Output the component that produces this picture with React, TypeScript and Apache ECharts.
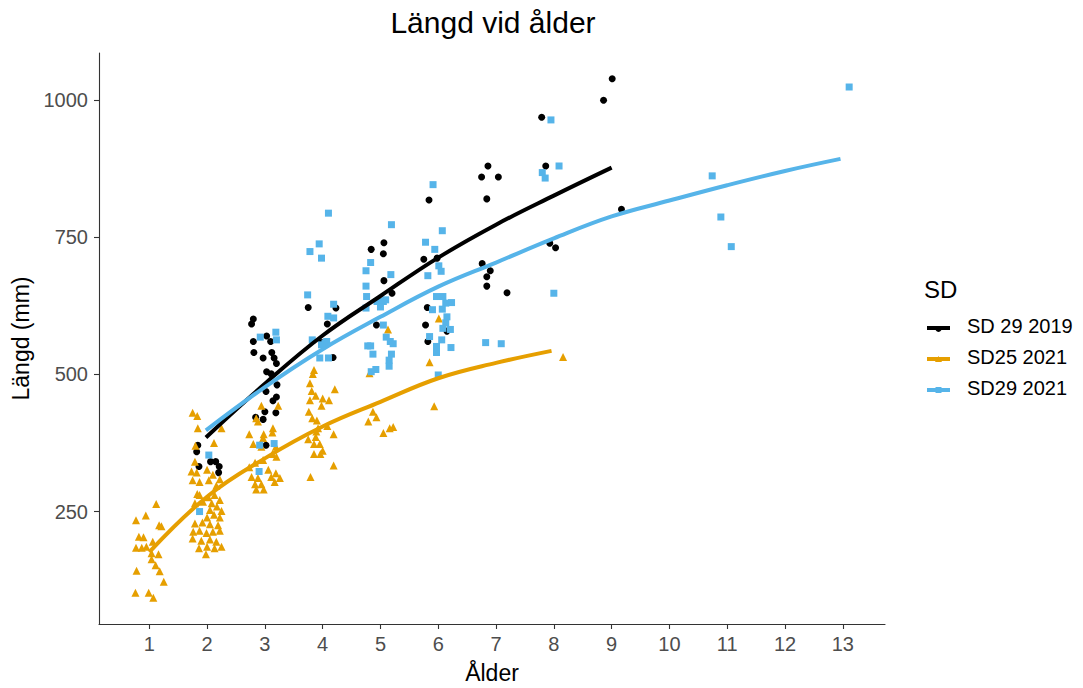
import React, { useEffect, useRef } from "react";
import * as echarts from "echarts";

// Axis ticks
const ageTicks = [1, 2, 3, 4, 5, 6, 7, 8, 9, 10, 11, 12, 13];
const lengthTicks = [250, 500, 750, 1000];

const groupNames = ["SD 29 2019", "SD25 2021", "SD29 2021"];
const groupColors = ["#000000", "#E69F00", "#56B4E9"];

// Observations: [ålder, längd (mm)]
const sd29_2019: [number, number][] = [
  [1.84, 371], [1.82, 359], [1.86, 332], [2.06, 341], [2.15, 341], [2.21, 332], [2.2, 321],
  [2.8, 601], [2.77, 592], [2.8, 560], [3.03, 570], [3.1, 560], [2.81, 540], [2.97, 530],
  [3.12, 540], [3.16, 530], [3.2, 520], [3.03, 505], [3.11, 501], [3.21, 481], [3.02, 469],
  [3.2, 459], [3.14, 452], [3.0, 432], [3.19, 430], [2.84, 422], [2.97, 418], [3.02, 371],
  [3.75, 622], [4.23, 621], [4.08, 592], [3.98, 558], [4.18, 531],
  [4.84, 728], [5.06, 740], [5.05, 720], [5.06, 671], [5.2, 648], [4.93, 590],
  [5.84, 818], [5.75, 710], [5.98, 712], [5.81, 622], [5.78, 590], [6.15, 579], [5.82, 560],
  [6.86, 880], [6.75, 860], [7.04, 860], [6.84, 820], [6.76, 702], [6.9, 689], [6.84, 678],
  [6.84, 661], [7.19, 649],
  [7.86, 880], [7.79, 969], [7.93, 739], [8.03, 731],
  [9.01, 1039], [8.86, 1000], [9.17, 801],
];

const sd25_2021: [number, number][] = [
  [1.12, 264], [0.94, 243], [0.77, 234], [1.17, 225], [1.21, 223], [0.82, 204], [0.9, 203],
  [1.06, 195], [0.77, 184], [0.87, 184], [0.95, 186], [1.04, 174], [1.16, 172], [1.04, 163],
  [1.11, 152], [0.78, 142], [1.18, 141], [1.25, 122], [0.76, 102], [0.99, 102], [1.07, 93],
  [1.75, 430], [1.83, 424], [1.84, 402], [2.25, 402], [2.12, 375], [1.8, 370], [1.79, 341],
  [1.73, 323], [1.82, 321], [2.0, 326], [2.1, 317], [2.22, 309], [1.75, 307], [1.87, 304],
  [2.03, 307], [2.16, 297], [1.83, 282], [1.87, 280], [2.02, 276], [2.13, 280], [2.22, 271],
  [1.79, 265], [1.93, 268], [2.08, 265], [2.17, 259], [2.25, 251], [2.05, 253], [2.12, 244],
  [2.0, 239], [2.22, 239], [1.79, 228], [1.92, 230], [2.05, 227], [2.19, 225], [1.76, 213],
  [1.87, 215], [1.99, 211], [2.1, 213], [2.22, 215], [1.75, 201], [1.9, 197], [2.05, 199],
  [2.16, 195], [1.86, 183], [2.0, 186], [2.13, 183], [2.25, 186], [1.98, 172],
  [2.94, 443], [3.23, 443], [2.85, 420], [2.88, 414], [3.14, 402], [3.13, 394], [2.73, 391],
  [2.98, 391], [2.97, 384], [2.8, 373], [2.94, 368], [3.19, 368], [3.13, 355], [3.2, 350],
  [2.83, 339], [2.97, 344], [2.73, 331], [3.06, 326], [3.19, 320], [2.77, 313], [2.88, 311],
  [3.11, 313], [3.26, 311], [2.83, 300], [2.94, 300], [3.17, 304], [2.85, 290], [2.98, 290],
  [3.85, 508], [3.83, 501], [3.78, 484], [4.21, 473], [3.81, 470], [3.88, 461], [4.11, 453],
  [3.78, 453], [4.0, 456], [3.98, 443], [3.76, 432], [3.82, 420], [3.9, 416], [3.92, 402],
  [3.89, 396], [4.08, 406], [4.19, 391], [3.75, 382], [3.88, 386], [3.85, 373], [3.95, 373],
  [4.0, 361], [3.85, 355], [3.96, 355], [4.19, 334], [3.79, 313],
  [4.81, 502], [4.87, 432], [4.93, 422], [4.79, 414], [5.16, 402], [5.22, 404], [5.05, 393],
  [5.13, 582],
  [5.85, 522], [5.93, 442], [6.01, 602],
  [8.16, 532],
];

const sd29_2021: [number, number][] = [
  [2.03, 353], [1.87, 250],
  [2.92, 568], [3.19, 577], [3.2, 563], [2.91, 371], [3.16, 374], [2.9, 323],
  [4.19, 628], [4.09, 606], [4.19, 603], [4.1, 794], [3.78, 724], [3.94, 738], [3.98, 712],
  [3.74, 645], [4.04, 557], [3.95, 530], [4.1, 530], [3.82, 563], [3.98, 554], [4.07, 560],
  [5.19, 773], [4.83, 704], [4.75, 689], [5.18, 682], [4.75, 661], [4.76, 642], [4.94, 633],
  [5.05, 633], [5.0, 623], [5.09, 636], [4.75, 621], [5.05, 590], [4.78, 552], [4.83, 552],
  [4.87, 537], [4.92, 509], [4.84, 505], [5.1, 568], [5.17, 560], [5.22, 556], [5.19, 537],
  [5.15, 526], [5.15, 515],
  [5.91, 846], [6.07, 762], [5.78, 741], [5.94, 728], [5.82, 680], [6.01, 698], [6.05, 688],
  [5.97, 642], [6.08, 642], [6.13, 630], [6.23, 631], [6.07, 619], [6.15, 605], [6.13, 594],
  [6.08, 584], [6.21, 582], [5.9, 618], [5.85, 569], [5.97, 551], [6.06, 563], [6.22, 549],
  [5.97, 540], [6.0, 499],
  [6.82, 558], [7.09, 556],
  [7.95, 964], [8.09, 880], [7.8, 868], [7.85, 858], [8.0, 648],
  [10.74, 862], [10.89, 787], [11.07, 733],
  [13.11, 1024],
];

// Fitted growth curves
const fit_sd29_2019: [number, number][] = [
  [1.98, 385], [3, 483], [4, 571], [5, 643], [6, 713], [7, 773], [8, 826], [9, 877],
];
const fit_sd25_2021: [number, number][] = [
  [1.0, 176], [2, 277], [3, 347], [4, 405], [5, 450], [6, 493], [7, 521], [7.96, 543],
];
const fit_sd29_2021: [number, number][] = [
  [1.98, 398], [3, 477], [4, 546], [5, 605], [6, 660], [7, 704], [8, 748], [9, 788],
  [10, 817], [11, 845], [12, 871], [12.96, 893],
];

const FONT = "Liberation Sans, Arial, sans-serif";

export default function App() {
  const ref = useRef<HTMLDivElement>(null);

  useEffect(() => {
    document.body.style.margin = "0";
    if (!ref.current) return;
    const chart = echarts.init(ref.current, undefined, { renderer: "svg" });

    const points = [sd29_2019, sd25_2021, sd29_2021];
    const fits = [fit_sd29_2019, fit_sd25_2021, fit_sd29_2021];
    const symbols = ["circle", "triangle", "rect"];
    const sizes = [7, 8, 7];

    const scatterSeries = points.map((d, i) => ({
      name: groupNames[i],
      type: "scatter",
      data: d,
      symbol: symbols[i],
      symbolSize: sizes[i],
      itemStyle: { color: groupColors[i], opacity: 1 },
      z: 2,
      silent: true,
    }));

    const lineSeries = fits.map((d, i) => ({
      name: groupNames[i] + " fit",
      type: "line",
      data: d,
      smooth: 0.4,
      showSymbol: false,
      lineStyle: { color: groupColors[i], width: 4 },
      z: 3 + i,
      silent: true,
    }));

    // Legend drawn as keys (line + point) with labels
    const legendX = 927;
    const legendRows = [328, 359, 390];
    const legendGraphics: any[] = [
      {
        type: "text",
        left: 924,
        top: 277,
        style: { text: "SD", font: `24px ${FONT}`, fill: "#000" },
      },
    ];
    legendRows.forEach((y, i) => {
      legendGraphics.push({
        type: "line",
        shape: { x1: legendX, y1: y, x2: legendX + 23, y2: y },
        style: { stroke: groupColors[i], lineWidth: 4 },
      });
      if (i === 0) {
        legendGraphics.push({
          type: "circle",
          shape: { cx: legendX + 11.5, cy: y + 1, r: 3 },
          style: { fill: groupColors[i] },
        });
      } else if (i === 1) {
        legendGraphics.push({
          type: "polygon",
          shape: { points: [[legendX + 11.5, y - 3], [legendX + 15, y + 3], [legendX + 8, y + 3]] },
          style: { fill: groupColors[i] },
        });
      } else {
        legendGraphics.push({
          type: "rect",
          shape: { x: legendX + 8.5, y: y - 3, width: 6, height: 6 },
          style: { fill: groupColors[i] },
        });
      }
      legendGraphics.push({
        type: "text",
        left: 967,
        top: y - 12,
        style: { text: groupNames[i], font: `20px ${FONT}`, fill: "#000" },
      });
    });

    const option: any = {
      animation: false,
      backgroundColor: "#ffffff",
      grid: {
        left: 99,
        right: 198,
        top: 53,
        bottom: 64,
        containLabel: false,
        outerBoundsMode: "none",
      },
      xAxis: {
        type: "value",
        min: 0.13,
        max: 13.73,
        name: "Ålder",
        nameLocation: "middle",
        nameGap: 37,
        nameTextStyle: { fontFamily: FONT, fontSize: 23, color: "#000" },
        axisLine: { show: true, onZero: false, lineStyle: { color: "#333333", width: 1.1 } },
        axisTick: { show: true, length: 5, customValues: ageTicks, lineStyle: { color: "#333333", width: 1.1 } },
        axisLabel: {
          customValues: ageTicks,
          color: "#4d4d4d",
          fontFamily: FONT,
          fontSize: 20,
          margin: 10,
          formatter: (v: number) => String(v),
        },
        splitLine: { show: false },
      },
      yAxis: {
        type: "value",
        min: 45,
        max: 1086,
        name: "Längd (mm)",
        nameLocation: "middle",
        nameGap: 61,
        nameTextStyle: { fontFamily: FONT, fontSize: 23, color: "#000" },
        axisLine: { show: true, onZero: false, lineStyle: { color: "#333333", width: 1.1 } },
        axisTick: { show: true, length: 5, customValues: lengthTicks, lineStyle: { color: "#333333", width: 1.1 } },
        axisLabel: {
          customValues: lengthTicks,
          color: "#4d4d4d",
          fontFamily: FONT,
          fontSize: 20,
          margin: 11,
          formatter: (v: number) => String(v),
        },
        splitLine: { show: false },
      },
      graphic: [
        {
          type: "text",
          x: 493,
          y: 7,
          style: {
            text: "Längd vid ålder",
            font: `30px ${FONT}`,
            fill: "#000",
            textAlign: "center",
          },
        },
        ...legendGraphics,
      ],
      series: [...scatterSeries, ...lineSeries],
    };

    chart.setOption(option);
    return () => chart.dispose();
  }, []);

  return <div ref={ref} style={{ width: 1083, height: 688 }} />;
}
